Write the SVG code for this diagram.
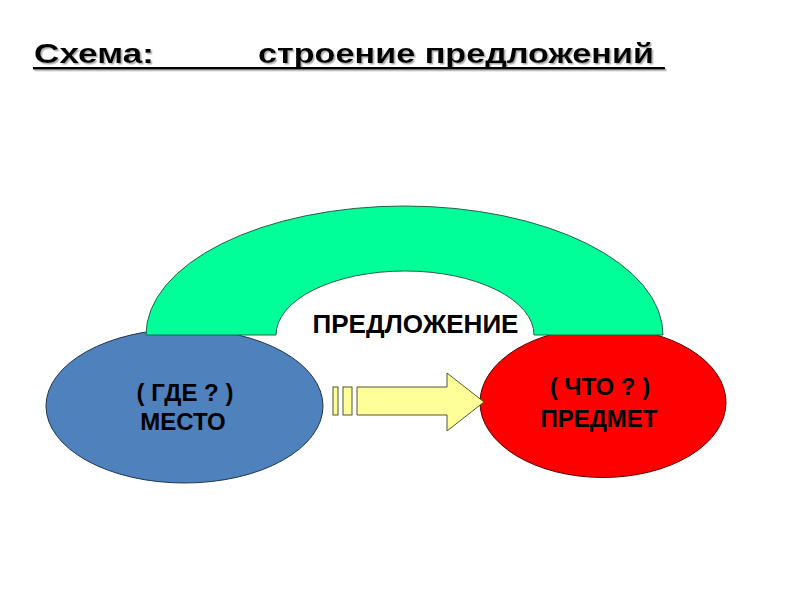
<svg xmlns="http://www.w3.org/2000/svg" width="800" height="600" viewBox="0 0 800 600">
<defs>
<style>
.t{font-family:"Liberation Sans",Arial,sans-serif;font-weight:bold;fill:#000}
.lbl{font-size:24px;text-anchor:middle}
.title{font-size:28px}
</style>
<filter id="sh" x="-5%" y="-20%" width="110%" height="150%">
<feDropShadow dx="1.5" dy="1.5" stdDeviation="0.6" flood-color="#999" flood-opacity="0.8"/>
</filter>
</defs>
<rect width="800" height="600" fill="#fff"/>
<g id="title" filter="url(#sh)">
<text class="t title" x="34" y="63" textLength="120" lengthAdjust="spacingAndGlyphs">Схема:</text>
<text class="t title" x="258" y="63" textLength="396" lengthAdjust="spacingAndGlyphs">строение предложений</text>
<rect x="33" y="67" width="632" height="2.5" fill="#000"/>
</g>
<g id="mesto">
<ellipse cx="184.5" cy="406" rx="138.5" ry="77" fill="#4F81BD" stroke="#1F3550" stroke-width="1"/>
<text class="t lbl" x="185" y="401">( ГДЕ ? )</text>
<text class="t lbl" x="183" y="430">МЕСТО</text>
</g>
<g id="predmet">
<ellipse cx="603" cy="402.5" rx="123" ry="75" fill="#FF0000" stroke="#5a0000" stroke-width="1"/>
<text class="t lbl" x="600" y="395">( ЧТО ? )</text>
<text class="t lbl" x="599" y="427">ПРЕДМЕТ</text>
</g>
<g id="predlozhenie">
<path d="M146,335 A258.5,129 0 0 1 663,335 L534,335 A129,64 0 0 0 276,335 Z" fill="#00FF99" stroke="#2B5E45" stroke-width="1"/>
<text class="t" x="415.5" y="333" font-size="25" text-anchor="middle" textLength="206" lengthAdjust="spacingAndGlyphs">ПРЕДЛОЖЕНИЕ</text>
</g>
<g id="connectors">
<rect x="333" y="387" width="5" height="28" fill="#FFFF99" stroke="#555533" stroke-width="1"/>
<rect x="343" y="387" width="9" height="28" fill="#FFFF99" stroke="#555533" stroke-width="1"/>
<path d="M357,387 L447,387 L447,373 L484,402 L447,431 L447,415 L357,415 Z" fill="#FFFF99" stroke="#555533" stroke-width="1"/>
</g>
</svg>
